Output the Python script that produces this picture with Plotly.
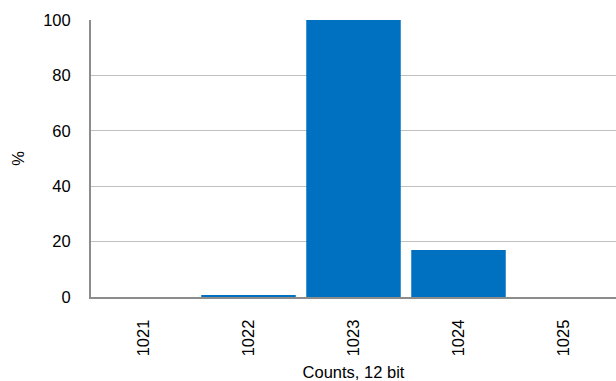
import plotly.graph_objects as go

counts = ["1021", "1022", "1023", "1024", "1025"]
percent = [0.0, 0.6, 100.0, 17.0, 0.0]

fig = go.Figure(
    go.Bar(x=counts, y=percent, marker=dict(color="#0070C0", line=dict(width=0)))
)

font = dict(family="Liberation Sans, Arial, sans-serif", size=16.5, color="#000000")

fig.update_layout(
    width=616,
    height=381,
    margin=dict(l=91, r=0, t=20, b=84),
    paper_bgcolor="white",
    plot_bgcolor="white",
    bargap=0.1,
    showlegend=False,
    font=font,
)
fig.update_xaxes(
    type="category",
    tickangle=-90,
    showline=True,
    linecolor="#8c8c8c",
    linewidth=2,
    showgrid=False,
    ticks="",
    ticklabelstandoff=14,
    tickfont=font,
    title=dict(text="Counts, 12 bit", font=font, standoff=13),
)
fig.update_yaxes(
    range=[0, 100],
    tickvals=[0, 20, 40, 60, 80, 100],
    showline=True,
    linecolor="#8c8c8c",
    linewidth=2,
    showgrid=True,
    gridcolor="#c0c0c0",
    gridwidth=1,
    ticks="",
    ticklabelstandoff=15,
    tickfont=font,
    zeroline=False,
    title=dict(text="%", font=font, standoff=14),
)

fig.write_html("out.html")
